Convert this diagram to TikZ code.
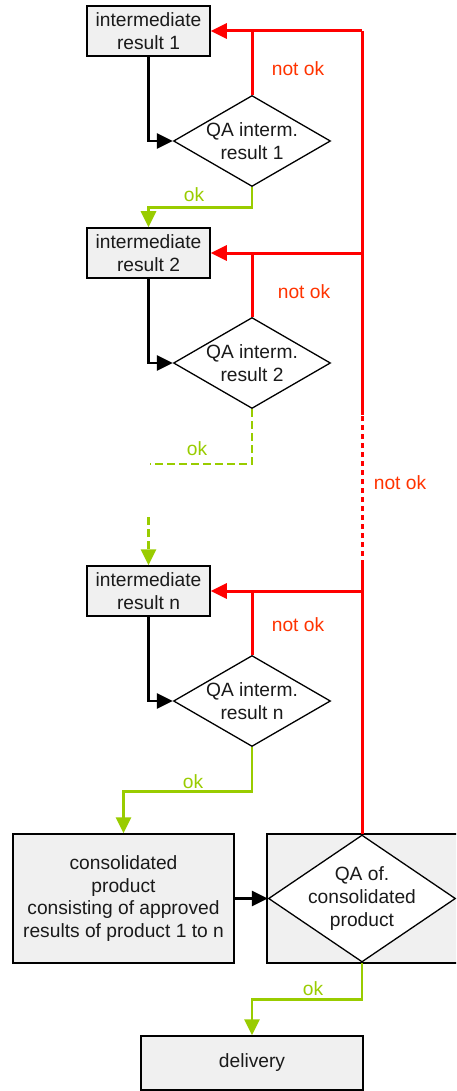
\documentclass[tikz,border=0pt]{standalone}
\usepackage{fontspec}
\setmainfont{Liberation Sans}
\usetikzlibrary{arrows.meta,shapes.geometric}
\definecolor{okgreen}{HTML}{99CC00}
\definecolor{nokred}{HTML}{FF0000}
\definecolor{noktext}{HTML}{FF3300}
\definecolor{boxfill}{HTML}{F0F0F0}
\definecolor{txt}{HTML}{1A1A1A}
\begin{document}
\begin{tikzpicture}[x=1pt,y=-1pt,
  every node/.style={font=\fontsize{19.2}{22.7}\selectfont, text=txt},
  box/.style={draw=black, line width=1.5pt, fill=boxfill, align=center, inner sep=0pt},
  dia/.style={draw=black, line width=1.3pt, fill=white, shape=diamond, inner sep=0pt},
  tip/.style={-{Triangle[length=16pt,width=15pt]}},
  blk/.style={draw=black, line width=2.8pt, tip},
  redl/.style={draw=nokred, line width=3pt},
  grn/.style={draw=okgreen, line width=2.8pt},
  nok/.style={text=noktext},
  oklab/.style={text=okgreen},
  dsh/.style={dash pattern=on 8pt off 4pt},
  rdsh/.style={dash pattern=on 5.5pt off 3.5pt}
]
\useasboundingbox (0,0) rectangle (456,1091);
\clip (0,0) rectangle (456,1091);

% boxes
\node[box, minimum width=123, minimum height=50] (b1) at (148.5,31) {intermediate\\result 1};
\node[box, minimum width=123, minimum height=50] (b2) at (148.5,253) {intermediate\\result 2};
\node[box, minimum width=123, minimum height=50] (bn) at (148.5,591) {intermediate\\result n};

% diamonds
\node[dia, minimum width=157, minimum height=91,
  label={[align=center]center:QA interm.\\result 1}] (d1) at (252,141) {};
\node[dia, minimum width=157, minimum height=91,
  label={[align=center]center:QA interm.\\result 2}] (d2) at (252,363) {};
\node[dia, minimum width=157, minimum height=91,
  label={[align=center]center:QA interm.\\result n}] (dn) at (252,701) {};

% consolidated
\node[box, minimum width=221, minimum height=129] (cons) at (123.5,898.5)
  {consolidated\\product\\consisting of approved\\results of product 1 to n};
\node[box, minimum width=203, minimum height=129] (rbox) at (368.5,898.5) {};
\node[dia, minimum width=187, minimum height=127,
  label={[align=center]center:QA of.\\consolidated\\product}] (qa) at (362,898.5) {};
\node[box, minimum width=222, minimum height=54] (del) at (252,1063) {delivery};

% black arrows
\draw[blk] (b1.south) |- (d1.west);
\draw[blk] (b2.south) |- (d2.west);
\draw[blk] (bn.south) |- (dn.west);
\draw[blk] (cons.east) -- (qa.west);

% red main line
\coordinate (rtop) at (362,31);
\coordinate (rd1) at (362,415);
\coordinate (rd2) at (362,565);
\draw[redl] (qa.north) -- (rd2);
\draw[redl, rdsh] (rd2) -- (rd1);
\draw[redl] (rd1) -- (rtop);
\draw[redl, tip] (rtop) -- (b1.east);
\draw[redl, tip] (rtop |- b2.east) -- (b2.east);
\draw[redl, tip] (rtop |- bn.east) -- (bn.east);
\draw[redl] (d1.north) -- (d1.north |- b1.east);
\draw[redl] (d2.north) -- (d2.north |- b2.east);
\draw[redl] (dn.north) -- (dn.north |- bn.east);

\node[nok] (n1) at (298,69) {not ok};
\node[nok] (n2) at (304,292) {not ok};
\node[nok] (n3) at (400,483) {not ok};
\node[nok] (n4) at (298,625) {not ok};

% green
\draw[grn, tip] (d1.south) -- ++(0,20) -| (b2.north);
\coordinate (g1) at (150,464);
\coordinate (g2) at (148.5,517);
\draw[grn, dsh] (d2.south) |- (g1);
\draw[grn, dsh, tip] (g2) -- (bn.north);
\draw[grn, tip] (dn.south) -- ++(0,44) -| (cons.north);
\draw[grn, tip] (qa.south) -- ++(0,37) -| (del.north);

\node[oklab] (o1) at (194,195) {ok};
\node[oklab] (o2) at (197,449) {ok};
\node[oklab] (o3) at (193,782) {ok};
\node[oklab] (o4) at (313,989) {ok};
\end{tikzpicture}
\end{document}
